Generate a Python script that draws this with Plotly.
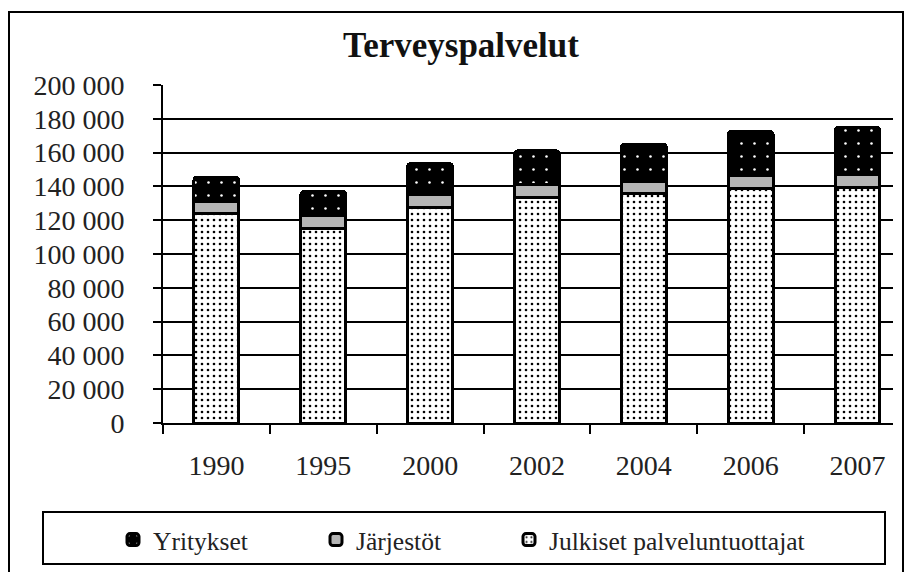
import plotly.graph_objects as go

# ---- data ----
years = ["1990", "1995", "2000", "2002", "2004", "2006", "2007"]
julkiset = [124000, 115000, 127500, 133500, 136000, 138500, 139500]
jarjestot = [7000, 8000, 8000, 7500, 7000, 8000, 7500]
yritykset = [14500, 14000, 18000, 20000, 22000, 26000, 28000]
y_ticks = [0, 20000, 40000, 60000, 80000, 100000, 120000, 140000, 160000, 180000, 200000]

W, H = 906, 572
L, R, T, B = 163, 893, 85, 423  # plot area in pixels


def px(x):
    return (x - L) / (R - L)


def py(y):
    return (B - y) / (B - T)


FONT = "Liberation Serif"

fig = go.Figure()
fig.add_trace(go.Bar(
    x=years, y=julkiset, name="Julkiset palveluntuottajat", legend="legend3",
    marker=dict(color="white", line=dict(color="black", width=3),
                pattern=dict(shape=".", bgcolor="white", fgcolor="black",
                             size=6, solidity=0.15, fillmode="replace")),
))
fig.add_trace(go.Bar(
    x=years, y=jarjestot, name="Järjestöt", legend="legend2",
    marker=dict(color="#b5b5b5", line=dict(color="black", width=3)),
))
fig.add_trace(go.Bar(
    x=years, y=yritykset, name="Yritykset", legend="legend",
    marker=dict(color="black", line=dict(color="black", width=3),
                pattern=dict(shape=".", bgcolor="black", fgcolor="white",
                             size=13, solidity=0.03, fillmode="replace")),
))

shapes = [
    # outer chart border
    dict(type="rect", xref="paper", yref="paper",
         x0=px(9), x1=px(903), y0=py(578), y1=py(12),
         line=dict(color="black", width=2), fillcolor="rgba(0,0,0,0)", layer="below"),
    # legend box
    dict(type="rect", xref="paper", yref="paper",
         x0=px(43), x1=px(885), y0=py(564), y1=py(512),
         line=dict(color="black", width=2), fillcolor="rgba(0,0,0,0)", layer="below"),
]


def leg(xpix):
    return dict(orientation="h", x=px(xpix), xanchor="left", y=py(540), yanchor="middle",
                bgcolor="rgba(0,0,0,0)", borderwidth=0,
                font=dict(family=FONT, size=25.5, color="#222222"))


fig.update_layout(
    width=W, height=H,
    margin=dict(l=L, r=W - R, t=T, b=H - B, pad=0, autoexpand=False),
    paper_bgcolor="white", plot_bgcolor="white",
    barmode="stack", bargap=0.58, barcornerradius=3,
    separators=", ",
    font=dict(family=FONT, color="#222222", size=28),
    title=dict(text="<b>Terveyspalvelut</b>", xref="container", yref="container",
               x=461 / W, xanchor="center", y=1 - 45 / H, yanchor="middle",
               font=dict(family=FONT, size=35, color="#111111")),
    xaxis=dict(type="category", range=[-0.5, 6.5 - (911 - R) / 107],
               showline=True, linecolor="black", linewidth=2,
               ticks="outside", tickson="boundaries", ticklen=9, tickwidth=2,
               tickcolor="black", showgrid=False, ticklabelstandoff=16,
               tickfont=dict(family=FONT, size=28, color="#222222")),
    yaxis=dict(range=[0, 200000], tickvals=y_ticks, tickformat=",d",
               showline=True, linecolor="black", linewidth=2,
               ticks="outside", ticklen=8, tickwidth=2, tickcolor="black",
               showgrid=True, gridcolor="black", gridwidth=1.5,
               zeroline=False, ticklabelstandoff=23,
               tickfont=dict(family=FONT, size=28, color="#222222")),
    legend=leg(113),
    legend2=leg(316),
    legend3=leg(509),
    shapes=shapes,
    showlegend=True,
)

fig.write_html("out.html", config={"displayModeBar": False},
               post_script="document.body.style.margin='0';")
